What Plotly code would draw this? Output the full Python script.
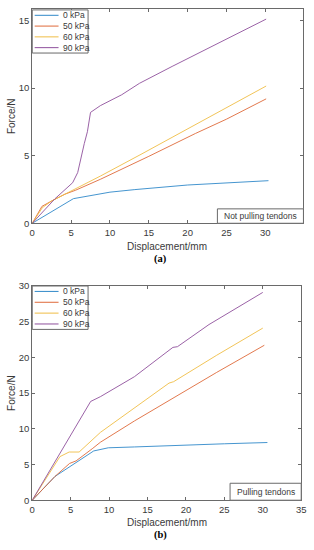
import plotly.graph_objects as go

# ---------------- data ----------------
series_names = ["0 kPa", "50 kPa", "60 kPa", "90 kPa"]
colors = ["#3089c9", "#df6a3a", "#efbd45", "#8f509c"]

# (a) Not pulling tendons
a_x0 = [0, 5.3, 10, 13.2, 20, 25, 30.4]
a_y0 = [0, 1.82, 2.3, 2.49, 2.83, 3.0, 3.15]
a_x50 = [0, 1.25, 2.5, 4.2, 5.6, 8.8, 15, 21, 25, 30.1]
a_y50 = [0, 1.25, 1.65, 2.15, 2.45, 3.26, 4.95, 6.64, 7.7, 9.2]
a_x60 = [0, 1.3, 2.5, 5.6, 8.8, 14, 20, 25, 30.1]
a_y60 = [0, 1.15, 1.65, 2.55, 3.5, 5.1, 7.0, 8.55, 10.15]
a_x90 = [0, 2.9, 5.2, 5.85, 6.7, 7.1, 7.5, 8.77, 11.5, 13.8, 18, 23.4, 30.1]
a_y90 = [0, 1.8, 3.0, 3.75, 5.9, 6.77, 8.2, 8.7, 9.5, 10.35, 11.6, 13.17, 15.1]

# (b) Pulling tendons
b_x0 = [0, 2.96, 8.0, 9.9, 13.3, 20, 25, 30.6]
b_y0 = [0, 3.33, 6.9, 7.34, 7.46, 7.76, 7.9, 8.08]
b_x50 = [0, 2.96, 4.86, 5.7, 7.8, 8.87, 13.3, 18, 24, 30.2]
b_y50 = [0, 3.33, 5.15, 5.5, 7.2, 8.12, 11.1, 14.1, 17.9, 21.7]
b_x60 = [0, 3.6, 4.8, 6.1, 8.87, 13.5, 17.8, 18.4, 24, 30]
b_y60 = [0, 6.1, 6.75, 6.75, 9.5, 13.1, 16.4, 16.6, 20.3, 24.1]
b_x90 = [0, 7.6, 8.87, 13.3, 18.3, 18.9, 23, 28.3, 30]
b_y90 = [0, 13.83, 14.5, 17.3, 21.4, 21.5, 24.6, 28.0, 29.1]

a_series = [(a_x0, a_y0), (a_x50, a_y50), (a_x60, a_y60), (a_x90, a_y90)]
b_series = [(b_x0, b_y0), (b_x50, b_y50), (b_x60, b_y60), (b_x90, b_y90)]

a_xticks = [0, 5, 10, 15, 20, 25, 30]
a_yticks = [0, 5, 10, 15]
b_xticks = [0, 5, 10, 15, 20, 25, 30, 35]
b_yticks = [0, 5, 10, 15, 20, 25, 30]

# ---------------- layout geometry ----------------
W, H = 314, 550
def px(x):
    return x / W
def py(y):
    return 1 - y / H

AX_COLOR = "#6a6a6a"
TXT_COLOR = "#3a3a3a"
FONT = "Liberation Sans, Arial, sans-serif"

fig = go.Figure()

for (xs, ys), name, c in zip(a_series, series_names, colors):
    fig.add_trace(go.Scatter(x=xs, y=ys, mode="lines", name=name,
                             line=dict(color=c, width=0.9), showlegend=False,
                             xaxis="x", yaxis="y"))
for (xs, ys), name, c in zip(b_series, series_names, colors):
    fig.add_trace(go.Scatter(x=xs, y=ys, mode="lines", name=name,
                             line=dict(color=c, width=0.9), showlegend=False,
                             xaxis="x2", yaxis="y2"))

axis_common = dict(showgrid=False, zeroline=False, showline=True, linecolor=AX_COLOR,
                   linewidth=1, mirror="ticks", ticks="inside", ticklen=3,
                   tickcolor=AX_COLOR, tickfont=dict(size=9.5, color=TXT_COLOR, family=FONT))

fig.update_layout(
    width=W, height=H,
    margin=dict(l=0, r=0, t=0, b=0),
    paper_bgcolor="white", plot_bgcolor="white",
    font=dict(family=FONT, color=TXT_COLOR),
    xaxis=dict(domain=[px(30), px(308.3)], range=[0, 34.9], tickvals=a_xticks,
               anchor="y", **axis_common),
    yaxis=dict(domain=[py(221.7), py(3.3)], range=[0, 15.83], tickvals=a_yticks,
               anchor="x", **axis_common),
    xaxis2=dict(domain=[px(30), px(306)], range=[0, 35], tickvals=b_xticks,
                anchor="y2", **axis_common),
    yaxis2=dict(domain=[py(504.3), py(285.7)], range=[0, 30], tickvals=b_yticks,
                anchor="x2", **axis_common),
)

annotations = []
shapes = []

def add_legend(top, left=30, right=87.3, bottom=None):
    shapes.append(dict(type="rect", xref="paper", yref="paper",
                       x0=px(left), x1=px(right), y0=py(bottom), y1=py(top),
                       line=dict(color=AX_COLOR, width=1), fillcolor="white"))
    step = (bottom - top) / 4.0
    for i, (name, c) in enumerate(zip(series_names, colors)):
        yc = top + step * (i + 0.5)
        shapes.append(dict(type="line", xref="paper", yref="paper",
                           x0=px(32.5), x1=px(57), y0=py(yc), y1=py(yc),
                           line=dict(color=c, width=1)))
        annotations.append(dict(xref="paper", yref="paper", x=px(59.5), y=py(yc),
                                text=name, showarrow=False, xanchor="left", yanchor="middle",
                                font=dict(size=8.5, color=TXT_COLOR, family=FONT)))

add_legend(top=4, bottom=48)
add_legend(top=285.7, bottom=330)

def add_box(x0, x1, y0, y1, text):
    shapes.append(dict(type="rect", xref="paper", yref="paper",
                       x0=px(x0), x1=px(x1), y0=py(y1), y1=py(y0),
                       line=dict(color=AX_COLOR, width=1), fillcolor="white"))
    annotations.append(dict(xref="paper", yref="paper", x=px((x0 + x1) / 2), y=py((y0 + y1) / 2),
                            text=text, showarrow=False, xanchor="center", yanchor="middle",
                            font=dict(size=8.5, color=TXT_COLOR, family=FONT)))

add_box(220, 308.3, 207, 221.7, "Not pulling tendons")
add_box(233, 306, 487, 504.3, "Pulling tendons")

# axis titles
for yc, xt_y, lab_y, lab in [((3.3 + 221.7) / 2, 245.5, 258, "(a)"),
                             ((285.7 + 504.3) / 2, 527, 540, "(b)")]:
    annotations.append(dict(xref="paper", yref="paper", x=px(8), y=py(yc), text="Force/N",
                            textangle=-90, showarrow=False, xanchor="center", yanchor="middle",
                            font=dict(size=10, color=TXT_COLOR, family=FONT)))
    annotations.append(dict(xref="paper", yref="paper", x=px(168), y=py(xt_y), text="Displacement/mm",
                            showarrow=False, xanchor="center", yanchor="middle",
                            font=dict(size=10, color=TXT_COLOR, family=FONT)))
    annotations.append(dict(xref="paper", yref="paper", x=px(161.5), y=py(lab_y), text="<b>" + lab + "</b>",
                            showarrow=False, xanchor="center", yanchor="middle",
                            font=dict(size=10.5, color="#000000", family="Liberation Serif, Times New Roman, serif")))

fig.update_layout(annotations=annotations, shapes=shapes)

fig.write_html("out.html", config={"displayModeBar": False, "staticPlot": True},
               post_script="document.body.style.margin='0px';document.body.style.overflow='hidden';")
